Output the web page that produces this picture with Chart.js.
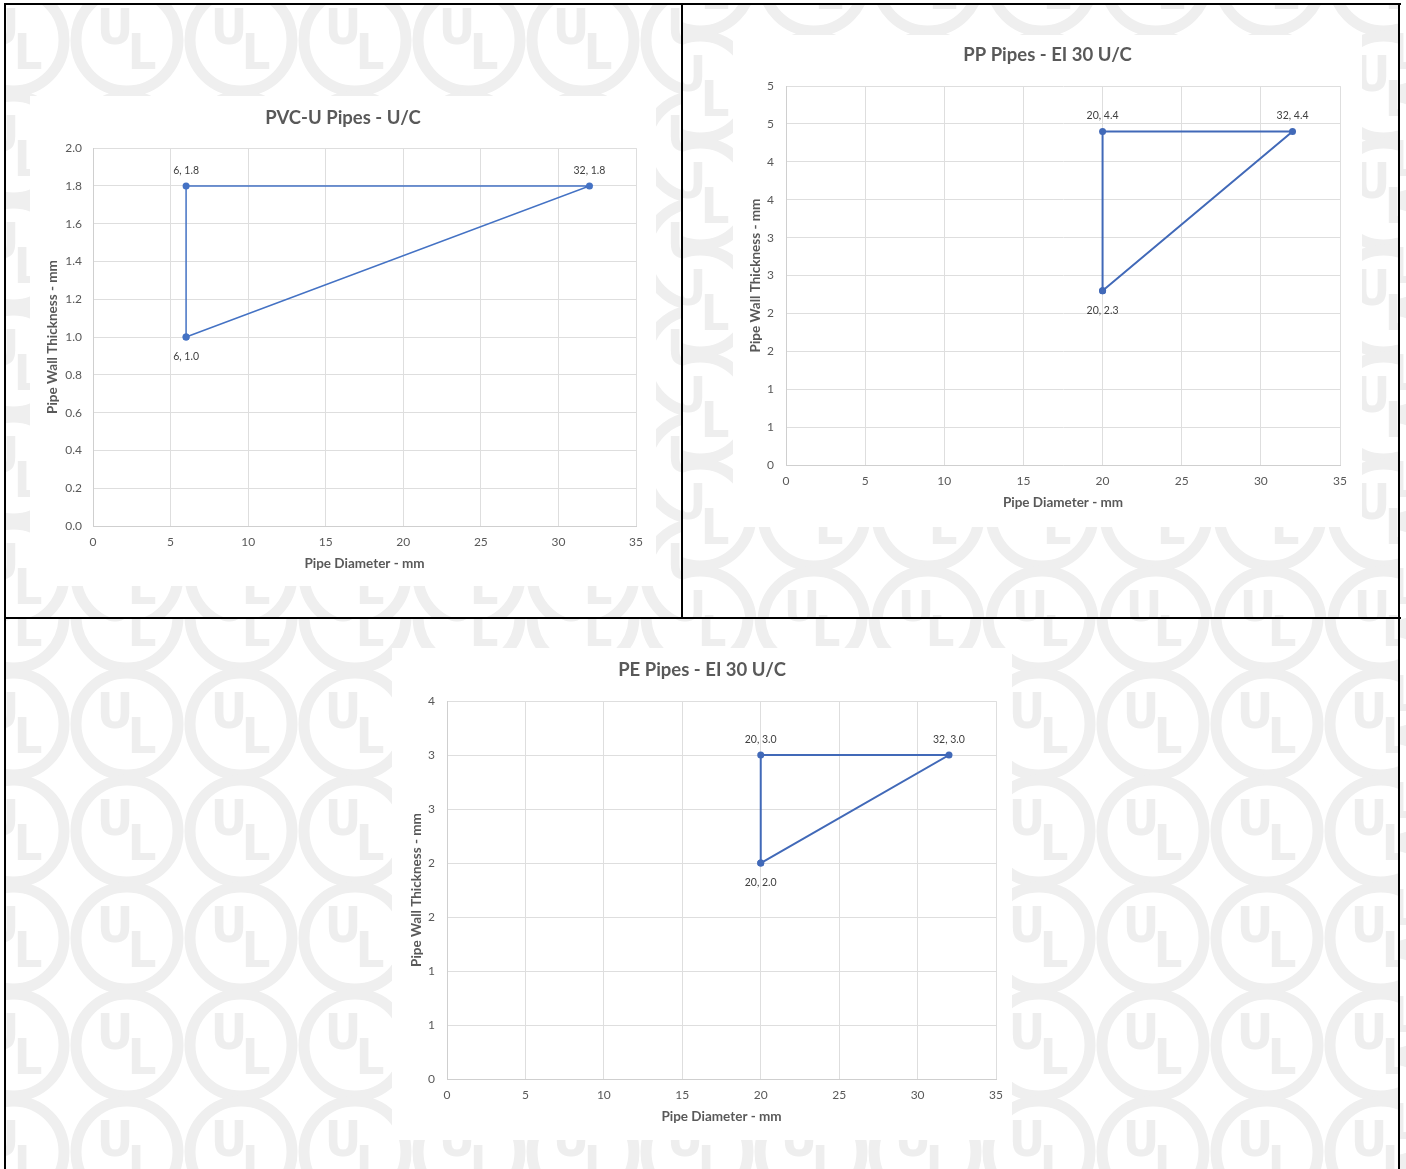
<!DOCTYPE html>
<html>
<head>
<meta charset="utf-8">
<script src="https://cdn.jsdelivr.net/npm/chart.js@4.4.1/dist/chart.umd.min.js"></script>
<style>
  html, body { margin:0; padding:0; background:#fff; }
  #page { position:relative; width:1406px; height:1169px; overflow:hidden; background:#fff; }
  #bg { position:absolute; left:0; top:0; }
  .box { position:absolute; background:#fff; }
  .box canvas { display:block; }
  .line { position:absolute; background:#000; }
</style>
</head>
<body>
<div id="page">
  <canvas id="bg" width="1406" height="1169"></canvas>
  <div class="box" style="left:30px;top:96px;width:626px;height:490px"><canvas id="c1" width="626" height="490"></canvas></div>
  <div class="box" style="left:733px;top:35px;width:629px;height:492px"><canvas id="c2" width="629" height="492"></canvas></div>
  <div class="box" style="left:392px;top:648px;width:620px;height:492px"><canvas id="c3" width="620" height="492"></canvas></div>
  <div class="line" style="left:4px;top:3px;width:1397px;height:2px"></div>
  <div class="line" style="left:4px;top:3px;width:2px;height:1166px"></div>
  <div class="line" style="left:1398px;top:3px;width:2px;height:1166px"></div>
  <div class="line" style="left:681px;top:3px;width:2px;height:616px"></div>
  <div class="line" style="left:4px;top:617px;width:1397px;height:2px"></div>
</div>
<script>
// ---------- DATA ----------
const pvcTitle = "PVC-U Pipes - U/C";
const pvcDiameter = [6, 6, 32, 6];
const pvcThickness = [1.0, 1.8, 1.8, 1.0];

const ppTitle = "PP Pipes - EI 30 U/C";
const ppDiameter = [20, 20, 32, 20];
const ppThickness = [2.3, 4.4, 4.4, 2.3];

const peTitle = "PE Pipes - EI 30 U/C";
const peDiameter = [20, 20, 32, 20];
const peThickness = [2.0, 3.0, 3.0, 2.0];

const xAxisTitle = "Pipe Diameter - mm";
const yAxisTitle = "Pipe Wall Thickness - mm";
const xTickValues = [0, 5, 10, 15, 20, 25, 30, 35];

// ---------- WATERMARK BACKGROUND ----------
(function drawBg() {
  const c = document.getElementById('bg');
  const ctx = c.getContext('2d');
  const panels = [
    {x:6, y:5, w:675, h:612, ox:13, oy:40},
    {x:683, y:5, w:715, h:612, ox:700, oy:-20},
    {x:6, y:619, w:1392, h:550, ox:13, oy:617},
    {x:1400, y:0, w:6, h:1169, ox:1390, oy:40}
  ];
  const dx = 114, dy = 107, r = 51;
  panels.forEach(p => {
    ctx.save();
    ctx.beginPath(); ctx.rect(p.x, p.y, p.w, p.h); ctx.clip();
    ctx.strokeStyle = '#efefef';
    ctx.fillStyle = '#eeeeee';
    ctx.lineWidth = 11;
    ctx.font = 'bold 50px "DejaVu Sans Condensed", "DejaVu Sans", sans-serif';
    ctx.textAlign = 'center'; ctx.textBaseline = 'middle';
    for (let cy = p.oy - dy*6; cy < p.y + p.h + dy; cy += dy) {
      if (cy < p.y - r - 10) continue;
      for (let cx = p.ox - dx*13; cx < p.x + p.w + dx; cx += dx) {
        if (cx < p.x - r - 10) continue;
        ctx.beginPath(); ctx.arc(cx, cy, r, 0, Math.PI*2); ctx.stroke();
        ctx.fillText('U', cx - 12, cy - 9);
        ctx.fillText('L', cx + 15, cy + 16);
      }
    }
    ctx.restore();
  });
})();

// ---------- CHARTS ----------
const FONT = 'Lato, "Open Sans", sans-serif';
const TXT = '#595959';

const dataLabelPlugin = {
  id: 'dataLabels',
  afterDatasetsDraw(chart, args, opts) {
    const ctx = chart.ctx;
    const ds = chart.data.datasets[0];
    const meta = chart.getDatasetMeta(0);
    ctx.save();
    ctx.font = '10.5px ' + FONT;
    ctx.fillStyle = '#404040';
    ctx.textAlign = 'center';
    ctx.textBaseline = 'middle';
    const n = ds.data.length - 1; // last point closes the shape
    for (let i = 0; i < n; i++) {
      const el = meta.data[i];
      const v = ds.data[i];
      const txt = v.x + ', ' + v.y.toFixed(1);
      const below = opts.below.includes(i);
      ctx.fillText(txt, el.x, below ? el.y + 19.5 : el.y - 15.5);
    }
    ctx.restore();
  }
};

function makeChart(id, title, xs, ys, cfg) {
  const pts = xs.map((x, i) => ({x: x, y: ys[i]}));
  return new Chart(document.getElementById(id), {
    type: 'scatter',
    data: {
      datasets: [{
        data: pts,
        showLine: true,
        borderColor: cfg.color,
        backgroundColor: cfg.color,
        borderWidth: cfg.lineWidth,
        pointRadius: 3.5,
        pointBorderWidth: 0,
        pointHoverRadius: 3.5,
        tension: 0
      }]
    },
    options: {
      responsive: false,
      animation: false,
      events: [],
      layout: { padding: 0 },
      plugins: {
        legend: { display: false },
        tooltip: { enabled: false },
        title: {
          display: true,
          text: title,
          color: TXT,
          font: { family: FONT, size: 18.5, weight: 'bold', lineHeight: 1.2 },
          padding: { top: cfg.titleTop, bottom: cfg.titleBottom }
        },
        dataLabels: { below: cfg.below }
      },
      scales: {
        x: {
          type: 'linear',
          min: 0, max: 35,
          afterBuildTicks: s => { s.ticks = xTickValues.map(v => ({value: v})); },
          ticks: { color: TXT, font: { family: FONT, size: 12 }, padding: 9, maxRotation: 0,
                   callback: v => String(v) },
          grid: { color: '#dedede', drawTicks: false },
          border: { color: '#cfcfcf' },
          title: { display: true, text: xAxisTitle, color: TXT,
                   font: { family: FONT, size: 13.5, weight: 'bold', lineHeight: 1.2 },
                   padding: { top: 0, bottom: cfg.xTitlePad } },
          afterFit: s => { s.height = cfg.xHeight; }
        },
        y: {
          type: 'linear',
          min: 0, max: cfg.yMax,
          ticks: { stepSize: cfg.yStep, color: TXT, font: { family: FONT, size: 12 }, padding: cfg.yTickPad,
                   callback: cfg.yFmt },
          grid: { color: '#dedede', drawTicks: false },
          border: { color: '#cfcfcf' },
          title: { display: true, text: yAxisTitle, color: TXT,
                   font: { family: FONT, size: 13.5, weight: 'bold', lineHeight: 1.2 },
                   padding: { top: cfg.yTitlePad, bottom: 0 } },
          afterFit: s => { s.width = cfg.yWidth; }
        },
        yRight: {
          type: 'linear',
          position: 'right',
          display: true,
          grid: { display: false, drawOnChartArea: false, drawTicks: false },
          border: { display: false },
          ticks: { display: false },
          afterFit: s => { s.width = cfg.padRight; }
        }
      }
    },
    plugins: [dataLabelPlugin]
  });
}

makeChart('c1', pvcTitle, pvcDiameter, pvcThickness, {
  color: '#4472C4', lineWidth: 1.5,
  padRight: 20, titleTop: 10.9, titleBottom: 19.0,
  xHeight: 60, xTitlePad: 14.1,
  yWidth: 63, yTitlePad: 14.5, yTickPad: 11,
  yMax: 2.0, yStep: 0.2, yFmt: v => Number(v).toFixed(1),
  below: [0]
});

makeChart('c2', ppTitle, ppDiameter, ppThickness, {
  color: '#4169B8', lineWidth: 2,
  padRight: 22, titleTop: 8.9, titleBottom: 20.0,
  xHeight: 62, xTitlePad: 16.1,
  yWidth: 53, yTitlePad: 14.5, yTickPad: 12,
  yMax: 5.0, yStep: 0.5, yFmt: v => String(Math.round(v)),
  below: [0]
});

makeChart('c3', peTitle, peDiameter, peThickness, {
  color: '#4169B8', lineWidth: 2,
  padRight: 15, titleTop: 10.9, titleBottom: 20.0,
  xHeight: 61, xTitlePad: 15.1,
  yWidth: 55, yTitlePad: 16.5, yTickPad: 12,
  yMax: 3.5, yStep: 0.5, yFmt: v => String(Math.round(v)),
  below: [0]
});
</script>
</body>
</html>
